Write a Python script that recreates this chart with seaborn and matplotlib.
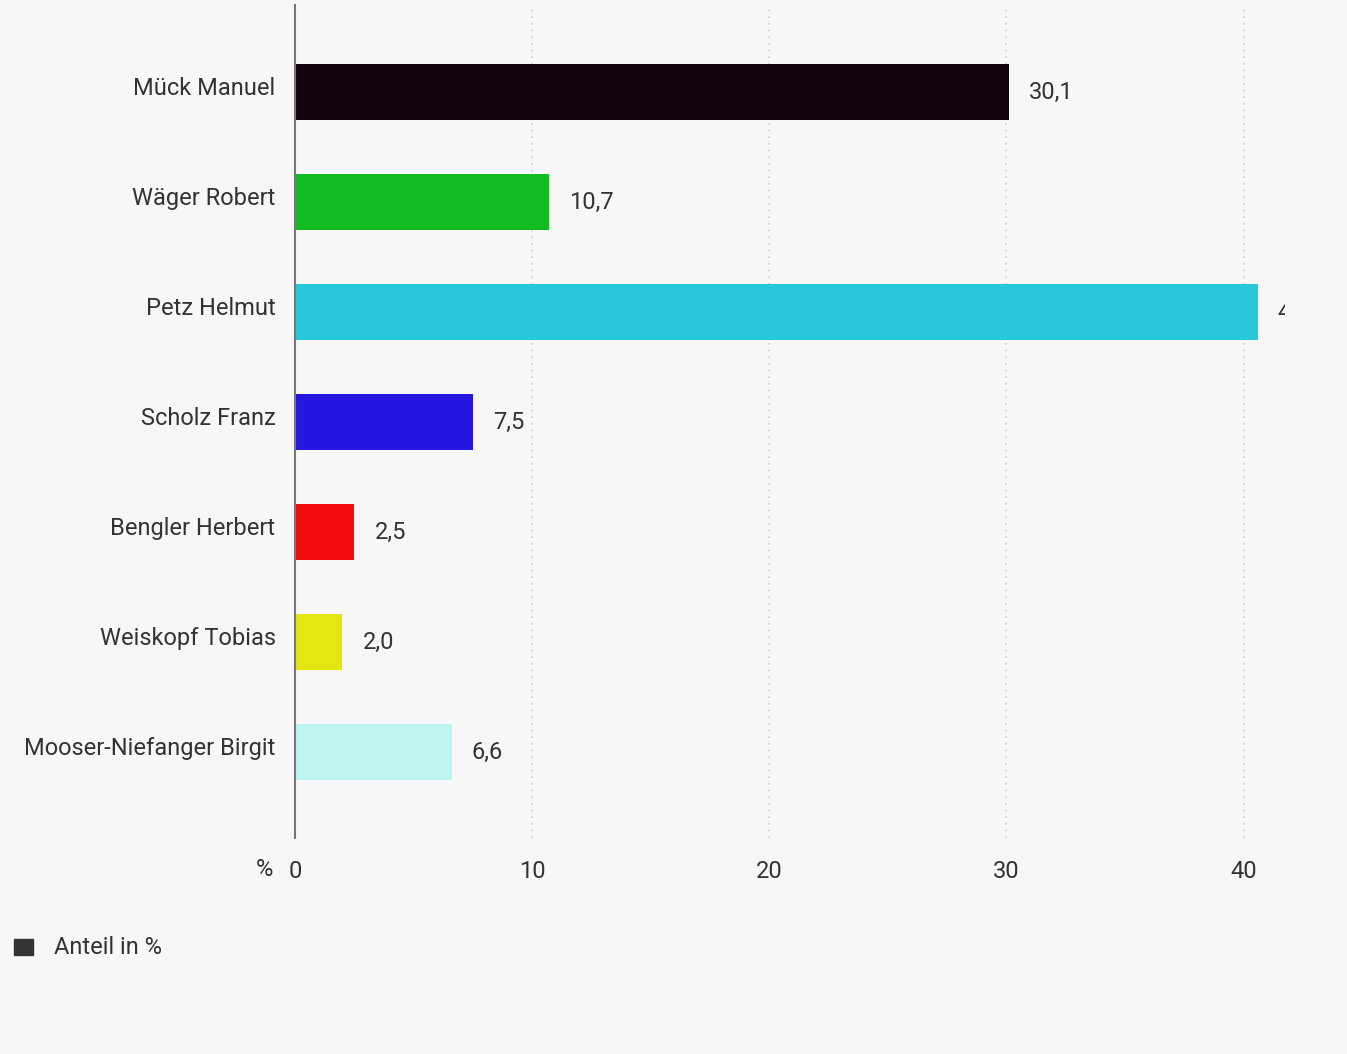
import matplotlib
matplotlib.use("Agg")
import matplotlib.pyplot as plt
import matplotlib.transforms as mtransforms
import seaborn as sns
import pandas as pd

# ==============================
# Data
# ==============================
candidates = ["Mück Manuel", "Wäger Robert", "Petz Helmut", "Scholz Franz",
              "Bengler Herbert", "Weiskopf Tobias", "Mooser-Niefanger Birgit"]
shares = [30.1, 10.7, 40.6, 7.5, 2.5, 2.0, 6.6]
bar_colors = ["#120510", "#13bb22", "#28c8da", "#2418e0",
              "#f20c12", "#e4e812", "#bdf5f0"]
x_ticks = [0, 10, 20, 30, 40]
legend_label = "Anteil in %"

df = pd.DataFrame({"name": candidates, "share": shares})

# ==============================
# Plot
# ==============================
sns.set_style("white")
plt.rcParams["font.family"] = ["Roboto", "DejaVu Sans"]
bg = "#f7f7f7"
text_col = "#333333"
fs = 17

fig = plt.figure(figsize=(13.47, 10.54), dpi=100, facecolor=bg)
ax = fig.add_axes([0.219, 0.205, 0.735, 0.79], facecolor=bg)

sns.barplot(data=df, x="share", y="name", hue="name", palette=bar_colors,
            legend=False, width=0.51, saturation=1, linewidth=0, ax=ax)

ax.set_xlim(0, 41.75)
ax.set_ylim(6.78, -0.79)
ax.set_xticks(x_ticks)
ax.set_xticklabels([str(t) for t in x_ticks])
ax.xaxis.grid(True, linestyle=(0, (1, 3)), color="#d0d0d0", linewidth=1.2)
ax.yaxis.grid(False)
ax.set_axisbelow(True)

for s in ["top", "right", "bottom"]:
    ax.spines[s].set_visible(False)
ax.spines["left"].set_color("#777777")
ax.spines["left"].set_linewidth(1.5)
ax.spines["left"].set_zorder(5)

ax.tick_params(axis="both", length=0, labelsize=fs, labelcolor=text_col)
ax.tick_params(axis="y", pad=14)
ax.tick_params(axis="x", pad=16)
ax.set_xlabel("")
ax.set_ylabel("")

# category labels sit a little above the bar centre
shift = mtransforms.ScaledTranslation(0, 6 / 100, fig.dpi_scale_trans)
for lbl in ax.get_yticklabels():
    lbl.set_transform(lbl.get_transform() + shift)

# value labels
for i, v in enumerate(shares):
    ax.text(v + 0.85, i, f"{v:.1f}".replace(".", ","), va="center",
            ha="left", fontsize=fs, color=text_col, clip_on=True)

# "%" unit label left of zero
fig.text(264 / 1347, 1 - 870 / 1054, "%", ha="center", va="center",
         fontsize=fs, color=text_col)

# legend
fig.patches.append(plt.Rectangle((14 / 1347, 1 - 955 / 1054), 19 / 1347,
                                 16 / 1054, transform=fig.transFigure,
                                 color=text_col))
fig.text(54 / 1347, 1 - 947 / 1054, legend_label, ha="left", va="center",
         fontsize=fs, color=text_col)

plt.savefig("out.png", dpi=100, facecolor=bg)
plt.close()
